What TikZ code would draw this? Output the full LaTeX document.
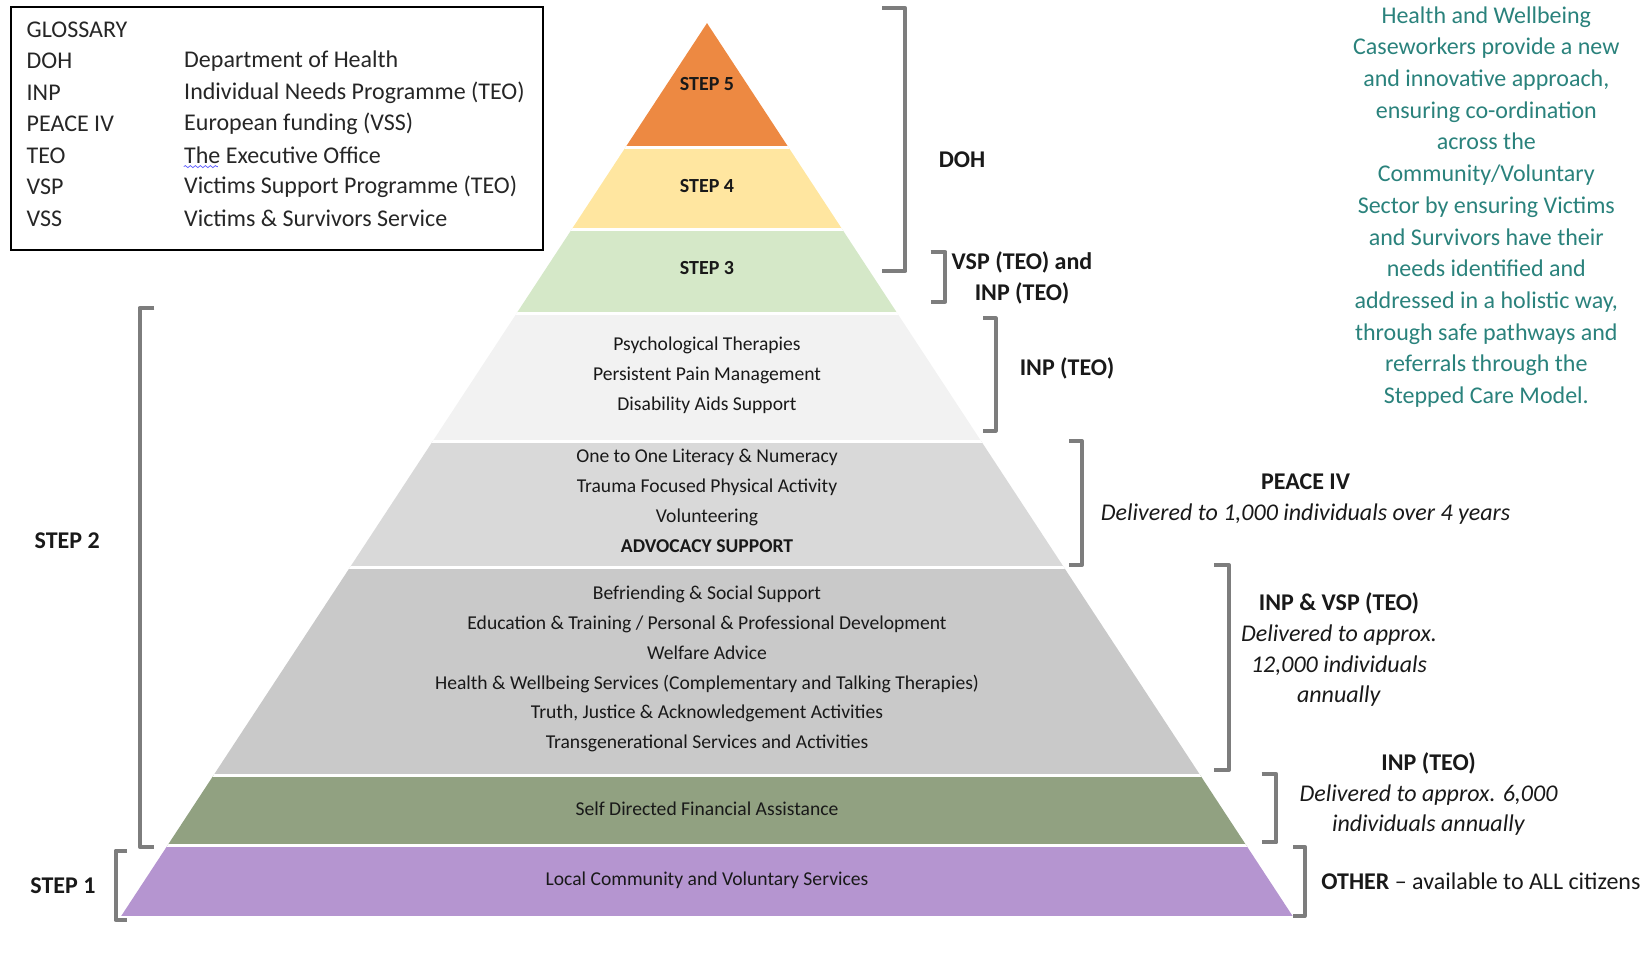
\documentclass[tikz,border=0pt]{standalone}
\usepackage{fontspec}
\setmainfont{Carlito}
\usetikzlibrary{positioning,decorations.pathmorphing}

\definecolor{stepfive}{RGB}{237,137,66}
\definecolor{stepfour}{RGB}{255,230,160}
\definecolor{stepthree}{RGB}{213,232,200}
\definecolor{tierpale}{RGB}{242,242,242}
\definecolor{tierlight}{RGB}{217,217,217}
\definecolor{tiermid}{RGB}{201,201,201}
\definecolor{tiersage}{RGB}{145,161,129}
\definecolor{tierlilac}{RGB}{181,149,208}
\definecolor{bracketgrey}{RGB}{125,125,125}
\definecolor{caseteal}{RGB}{42,130,124}

\begin{document}
\begin{tikzpicture}[x=0.5pt,y=-0.5pt,
    brk/.style={draw=bracketgrey, line width=2pt, line join=round},
    tier/.style={font=\fontsize{9.8}{14.9}\selectfont, align=center, inner sep=0pt, text=black!90},
    stepname/.style={font=\fontsize{10}{12}\selectfont\bfseries, inner sep=0pt, text=black!90},
    side/.style={font=\fontsize{12}{15.4}\selectfont, align=center, inner sep=0pt, text=black!90},
    gloss/.style={font=\fontsize{12}{15}\selectfont, anchor=west, inner sep=0pt, text=black!85}]

    \useasboundingbox (0,0) rectangle (1647,969);

    % Glossary
    \draw[line width=1pt] (10.5,7.4) rectangle (543,250);
    \node[gloss] (glosstitle) at (26.3,29.4) {GLOSSARY};
    \foreach \abbr/\full [count=\i] in {DOH/Department of Health, INP/Individual Needs Programme (TEO),
        PEACE IV/European funding (VSS), TEO/The Executive Office,
        VSP/Victims Support Programme (TEO), VSS/Victims \& Survivors Service} {
        \node[gloss] (abbr\i) at (26.3,29.4+31.5*\i) {\abbr};
        \node[gloss] (full\i) at (183.8,29.4+31.5*\i) {\full};
    }
    \draw[blue!60, decorate, decoration={snake, amplitude=0.5pt, segment length=2.5pt}]
        ([yshift=-1.2pt]full4.south west) -- ++(34,0);

    % Pyramid
    \begin{scope}
        \clip (707,23.1) -- (121.2,916) -- (1292.6,916) -- cycle;
        \fill[stepfive] (0,0) rectangle (1647,147.1);
        \fill[stepfour] (0,147.1) rectangle (1647,229);
        \fill[stepthree] (0,229) rectangle (1647,313);
        \fill[tierpale] (0,313) rectangle (1647,441.2);
        \fill[tierlight] (0,441.2) rectangle (1647,567.2);
        \fill[tiermid] (0,567.2) rectangle (1647,775.2);
        \fill[tiersage] (0,775.2) rectangle (1647,845.6);
        \fill[tierlilac] (0,845.6) rectangle (1647,916);
        \foreach \y in {147.1,229,313,441.2,567.2,775.2,845.6}
            \draw[white, line width=1.5pt] (0,\y) -- (1647,\y);
    \end{scope}

    % Tier texts
    \node[stepname] (step5) at (707,84) {STEP 5};
    \node[stepname] (step4) at (707,186) {STEP 4};
    \node[stepname] (step3) at (707,267.9) {STEP 3};
    \node[tier] (psych) at (707,375.3) {Psychological Therapies\\Persistent Pain Management\\Disability Aids Support};
    \node[tier] (literacy) at (707,501) {One to One Literacy \& Numeracy\\Trauma Focused Physical Activity\\Volunteering\\\textbf{ADVOCACY SUPPORT}};
    \node[tier] (befriend) at (707,669.1) {Befriending \& Social Support\\Education \& Training / Personal \& Professional Development\\Welfare Advice\\Health \& Wellbeing Services (Complementary and Talking Therapies)\\Truth, Justice \& Acknowledgement Activities\\Transgenerational Services and Activities};
    \node[tier] (finance) at (707,808.8) {Self Directed Financial Assistance};
    \node[tier] (community) at (707,880.3) {Local Community and Voluntary Services};

    % Brackets on the right
    \draw[brk] (882.3,8.4) -- (905.4,8.4) -- (905.4,271) -- (882.3,271);
    \draw[brk] (930.7,252) -- (945.4,252) -- (945.4,301.5) -- (930.7,301.5);
    \draw[brk] (983.2,318.3) -- (995.8,318.3) -- (995.8,430.7) -- (983.2,430.7);
    \draw[brk] (1069,441.2) -- (1082,441.2) -- (1082,565) -- (1069,565);
    \draw[brk] (1214.3,565) -- (1229,565) -- (1229,770) -- (1214.3,770);
    \draw[brk] (1261.6,774) -- (1276.3,774) -- (1276.3,842.4) -- (1261.6,842.4);
    \draw[brk] (1293,846.6) -- (1304.6,846.6) -- (1304.6,916) -- (1293,916);
    % Brackets on the left
    \draw[brk] (154.4,307.8) -- (139.7,307.8) -- (139.7,846.6) -- (154.4,846.6);
    \draw[brk] (127,850.8) -- (115.5,850.8) -- (115.5,920) -- (127,920);

    % Funding labels
    \node[side, font=\fontsize{12}{15.4}\selectfont\bfseries] (doh) at (962,159.7) {DOH};
    \node[side, font=\fontsize{12}{15.4}\selectfont\bfseries] (vspinp) at (1022,277.8) {VSP (TEO) and\\INP (TEO)};
    \node[side, font=\fontsize{12}{15.4}\selectfont\bfseries] (inpthree) at (1067,368.7) {INP (TEO)};
    \node[side] (peace) at (1305.6,498.9) {\textbf{PEACE IV}\\\textit{Delivered to 1,000 individuals over 4 years}};
    \node[side] (inpvsp) at (1339,649.7) {\textbf{INP \& VSP (TEO)}\\\textit{Delivered to approx.}\\\textit{12,000 individuals}\\\textit{annually}};
    \node[side] (inpsix) at (1428.6,794.1) {\textbf{INP (TEO)}\\\textit{Delivered to approx. 6,000}\\\textit{individuals annually}};
    \node[side, anchor=west] (other) at (1321,881.3) {\textbf{OTHER} -- available to ALL citizens};
    \node[side, font=\fontsize{12}{15.4}\selectfont\bfseries] (steptwo) at (67.2,541) {STEP 2};
    \node[side, font=\fontsize{12}{15.4}\selectfont\bfseries] (stepone) at (63,885.5) {STEP 1};

    % Caseworker note
    \node[font=\fontsize{12}{15.85}\selectfont, text=caseteal, align=center, inner sep=0pt] (casework) at (1486.3,206.9)
        {Health and Wellbeing\\Caseworkers provide a new\\and innovative approach,\\ensuring co-ordination\\across the\\Community/Voluntary\\Sector by ensuring Victims\\and Survivors have their\\needs identified and\\addressed in a holistic way,\\through safe pathways and\\referrals through the\\Stepped Care Model.};
\end{tikzpicture}
\end{document}
